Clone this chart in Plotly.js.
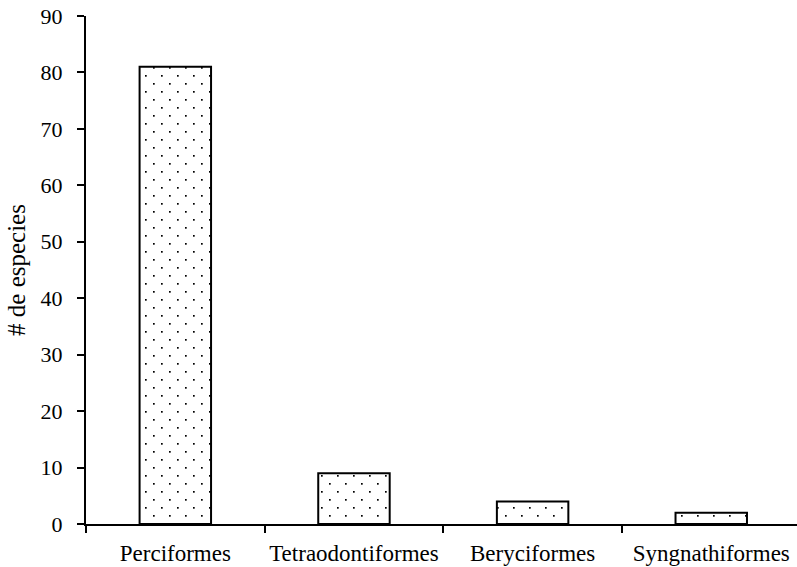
<!DOCTYPE html>
<html>
<head>
<meta charset="utf-8">
<script src="https://cdn.plot.ly/plotly-3.0.1.min.js"></script>
<style>
html,body{margin:0;padding:0;background:#fff;overflow:hidden}
#chart text{font-family:'Liberation Serif','Times New Roman',serif !important;}
</style>
</head>
<body>
<div id="chart" style="width:797px;height:567px"></div>
<script>
const categories = ["Perciformes", "Tetraodontiformes", "Beryciformes", "Syngnathiformes"];
const especies = [81, 9, 4, 2];
const yTicks = [0, 10, 20, 30, 40, 50, 60, 70, 80, 90];

const SERIF = "Liberation Serif";

Plotly.newPlot("chart", [{
  type: "bar",
  x: categories,
  y: especies,
  width: 0.4,
  marker: {
    color: "#ffffff",
    line: {color: "#000000", width: 2},
    pattern: {shape: ".", size: 16, solidity: 0.02, fgcolor: "#000000", bgcolor: "#ffffff", fillmode: "replace"}
  },
  hoverinfo: "skip"
}], {
  width: 797, height: 567,
  margin: {l: 86, r: 0, t: 16, b: 43},
  paper_bgcolor: "#fff", plot_bgcolor: "#fff",
  showlegend: false,
  font: {family: SERIF, color: "#000", size: 22},
  xaxis: {
    type: "category",
    range: [-0.5, 3.48],
    showgrid: false, zeroline: false,
    showline: true, linecolor: "#000", linewidth: 2,
    ticks: "outside", tickson: "boundaries", ticklen: 7, tickwidth: 2, tickcolor: "#000",
    tickangle: 0,
    ticklabelstandoff: 7,
    tickfont: {family: SERIF, size: 23, color: "#000"}
  },
  yaxis: {
    range: [0, 90],
    tickvals: yTicks,
    showgrid: false, zeroline: false,
    showline: true, linecolor: "#000", linewidth: 2,
    ticks: "outside", ticklen: 7, tickwidth: 2, tickcolor: "#000",
    ticklabelstandoff: 10,
    tickfont: {family: SERIF, size: 22, color: "#000"},
    title: {text: "# de especies", font: {family: SERIF, size: 25, color: "#000"}, standoff: 8}
  }
}, {displayModeBar: false, staticPlot: true}).then(function (gd) {
  // Make the dot pattern staggered like the reference (two dots per 16px tile)
  const NS = "http://www.w3.org/2000/svg";
  gd.querySelectorAll("defs pattern").forEach(function (p) {
    p.setAttribute("width", 16);
    p.setAttribute("height", 16);
    while (p.firstChild) p.removeChild(p.firstChild);
    const bg = document.createElementNS(NS, "rect");
    bg.setAttribute("width", 16); bg.setAttribute("height", 16); bg.setAttribute("fill", "#fff");
    p.appendChild(bg);
    [[3, 3], [11, 11]].forEach(function (c) {
      const r = document.createElementNS(NS, "rect");
      r.setAttribute("x", c[0]); r.setAttribute("y", c[1]);
      r.setAttribute("width", 1.7); r.setAttribute("height", 1.7);
      r.setAttribute("fill", "#000");
      p.appendChild(r);
    });
  });
});
</script>
</body>
</html>
